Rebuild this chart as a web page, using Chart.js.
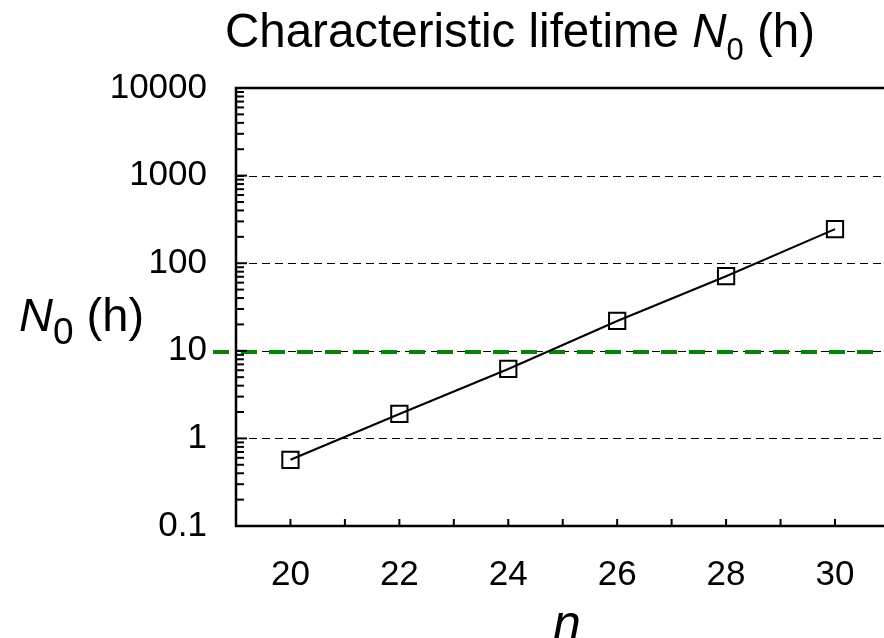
<!DOCTYPE html>
<html>
<head>
<meta charset="utf-8">
<script src="https://cdn.jsdelivr.net/npm/chart.js@4/dist/chart.umd.min.js"></script>
<style>
  html, body { margin: 0; padding: 0; background: #fff; overflow: hidden; }
  #wrap { position: relative; width: 884px; height: 638px; font-family: 'Liberation Sans', Arial, sans-serif; color: #000; overflow: hidden; }
  #chart { position: absolute; left: 0; top: 0; }
  .lbl { position: absolute; white-space: nowrap; line-height: 1; }
  .lbl i { font-style: italic; }
  .sub { position: relative; }
  #title { left: 520px; top: 7px; font-size: 47.5px; transform: translateX(-50%); }
  #title .sub { font-size: 31px; top: 13px; }
  #ylabel { left: 19px; top: 291px; font-size: 47px; }
  #ylabel .sub { font-size: 37px; top: 13px; }
  #xlabel { left: 567px; top: 598px; font-size: 50px; transform: translateX(-50%); }
</style>
</head>
<body>
<div id="wrap">
  <canvas id="chart" width="884" height="638"></canvas>
  <div class="lbl" id="title">Characteristic lifetime <i>N</i><span class="sub">0</span> (h)</div>
  <div class="lbl" id="ylabel"><i>N</i><span class="sub">0</span> (h)</div>
  <div class="lbl" id="xlabel"><i>n</i></div>
</div>
<script>
const cycles = [20, 22, 24, 26, 28, 30];
const lifetimeHours = [0.57, 1.9, 6.2, 21.9, 71, 245];
const xTickValues = [20, 22, 24, 26, 28, 30];
const xMinorTicks = [20, 21, 22, 23, 24, 25, 26, 27, 28, 29, 30];
const yTickValues = [0.1, 1, 10, 100, 1000, 10000];
const gridDecades = [1, 10, 100, 1000];
const thresholdHours = 9.7;

const FONT = "'Liberation Sans', Arial, sans-serif";

// axes frame, inward ticks, dashed decade lines and the green threshold
const framePlugin = {
  id: 'frame',
  beforeDatasetsDraw(chart) {
    const { ctx, chartArea: a, scales: { x, y } } = chart;
    ctx.save();

    // black dashed decade lines
    ctx.strokeStyle = '#000';
    ctx.lineWidth = 1;
    ctx.setLineDash([8, 5]);
    gridDecades.forEach(v => {
      const py = Math.round(y.getPixelForValue(v)) + 0.5;
      ctx.beginPath(); ctx.moveTo(a.left, py); ctx.lineTo(a.right, py); ctx.stroke();
    });

    // green threshold, runs out past the axis on the left
    const gy = y.getPixelForValue(thresholdHours);
    ctx.strokeStyle = '#058405';
    ctx.lineWidth = 4;
    ctx.setLineDash([16, 12]);
    ctx.beginPath(); ctx.moveTo(a.left - 23, gy); ctx.lineTo(a.right, gy); ctx.stroke();

    ctx.setLineDash([]);
    ctx.strokeStyle = '#000';

    // y ticks: decades long, 2..9 short, pointing into the plot
    ctx.lineWidth = 2;
    for (let d = -1; d <= 4; d++) {
      for (let m = 1; m <= 9; m++) {
        const v = m * Math.pow(10, d);
        if (v > 10000) break;
        const py = y.getPixelForValue(v);
        const len = m === 1 ? 11 : 8;
        ctx.beginPath(); ctx.moveTo(a.left, py); ctx.lineTo(a.left + len, py); ctx.stroke();
      }
    }

    // x ticks at every integer
    xMinorTicks.forEach(v => {
      const px = x.getPixelForValue(v);
      ctx.beginPath(); ctx.moveTo(px, a.bottom); ctx.lineTo(px, a.bottom - 7); ctx.stroke();
    });

    // left axis, bottom axis, top border
    ctx.lineWidth = 2.5;
    ctx.beginPath();
    ctx.moveTo(a.right, a.top); ctx.lineTo(a.left, a.top);
    ctx.lineTo(a.left, a.bottom); ctx.lineTo(a.right, a.bottom);
    ctx.stroke();
    ctx.restore();
  }
};

new Chart(document.getElementById('chart'), {
  type: 'line',
  data: {
    datasets: [{
      data: cycles.map((n, i) => ({ x: n, y: lifetimeHours[i] })),
      borderColor: '#000',
      borderWidth: 2,
      tension: 0,
      pointStyle: 'rect',
      pointRadius: 11.5,
      pointBorderWidth: 2,
      pointBorderColor: '#000',
      pointBackgroundColor: 'rgba(0,0,0,0)'
    }]
  },
  options: {
    responsive: false,
    devicePixelRatio: 1,
    animation: false,
    layout: { autoPadding: false, padding: { top: 88, left: 0, right: 0, bottom: 0 } },
    plugins: { legend: { display: false }, tooltip: { enabled: false } },
    scales: {
      x: {
        type: 'linear',
        min: 19,
        max: 30.9,
        afterBuildTicks: s => { s.ticks = xTickValues.map(v => ({ value: v })); },
        afterFit: s => { s.height = 112; s.paddingLeft = 0; s.paddingRight = 0; },
        grid: { display: false, drawTicks: false },
        border: { display: false },
        ticks: { color: '#000', padding: 28, maxRotation: 0, autoSkip: false, font: { family: FONT, size: 35 } }
      },
      y: {
        type: 'logarithmic',
        min: 0.1,
        max: 10000,
        afterBuildTicks: s => { s.ticks = yTickValues.map(v => ({ value: v })); },
        afterFit: s => { s.width = 236; },
        grid: { display: false, drawTicks: false },
        border: { display: false },
        ticks: {
          color: '#000', padding: 29, autoSkip: false, font: { family: FONT, size: 35 },
          callback: v => String(v)
        }
      }
    }
  },
  plugins: [framePlugin]
});
</script>
</body>
</html>
